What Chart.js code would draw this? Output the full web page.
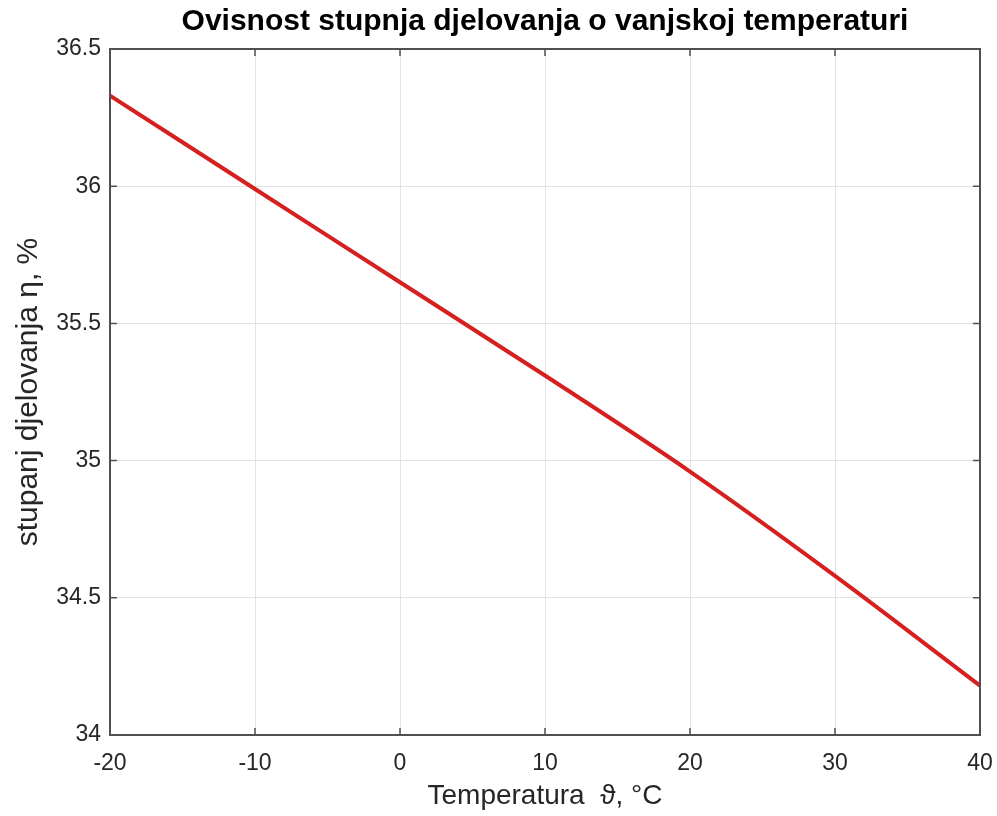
<!DOCTYPE html>
<html lang="hr">
<head>
  <meta charset="UTF-8">
  <title>Ovisnost stupnja djelovanja o vanjskoj temperaturi</title>
  <style>
    html,body{margin:0;padding:0;background:#fff;}
    #wrap{width:997px;height:816px;}
  </style>
  <script src="https://cdn.jsdelivr.net/npm/chart.js"></script>
</head>
<body>
  <div id="wrap"><canvas id="c" width="997" height="816"></canvas></div>
  <script>
    // podaci očitani sa slike
    const temps = [-20, -10, 0, 10, 20, 30, 40];
    const eta   = [36.33, 35.99, 35.65, 35.31, 34.96, 34.58, 34.18];
    const xTicks = [-20, -10, 0, 10, 20, 30, 40];
    const yTicks = [34, 34.5, 35, 35.5, 36, 36.5];

    const ink = '#262626';
    const FONT = "'Liberation Sans', Arial, sans-serif";

    // okvir osi + unutarnje crtice (MATLAB stil)
    const boxPlugin = {
      id: 'box',
      afterDraw(chart) {
        const {ctx, chartArea: a, scales: {x, y}} = chart;
        ctx.save();
        ctx.strokeStyle = '#505050';
        ctx.lineWidth = 1.5;
        ctx.beginPath();
        xTicks.forEach(v => {
          const px = x.getPixelForValue(v);
          ctx.moveTo(px, a.bottom); ctx.lineTo(px, a.bottom - 7);
          ctx.moveTo(px, a.top); ctx.lineTo(px, a.top + 7);
        });
        yTicks.forEach(v => {
          const py = y.getPixelForValue(v);
          ctx.moveTo(a.left, py); ctx.lineTo(a.left + 7, py);
          ctx.moveTo(a.right, py); ctx.lineTo(a.right - 7, py);
        });
        ctx.stroke();
        ctx.lineWidth = 2;
        ctx.strokeRect(a.left, a.top, a.right - a.left, a.bottom - a.top);
        ctx.restore();
      }
    };

    new Chart(document.getElementById('c'), {
      type: 'line',
      data: {
        datasets: [{
          data: temps.map((t, i) => ({x: t, y: eta[i]})),
          borderColor: '#d61f1f',
          borderWidth: 4,
          pointRadius: 0,
          cubicInterpolationMode: 'monotone',
          fill: false
        }]
      },
      options: {
        responsive: false,
        animation: false,
        layout: {padding: 0},
        plugins: {
          legend: {display: false},
          tooltip: {enabled: false},
          title: {
            display: true,
            fullSize: false,
            text: 'Ovisnost stupnja djelovanja o vanjskoj temperaturi',
            color: '#000',
            font: {family: FONT, size: 30, weight: 'bold', lineHeight: 1.2},
            padding: {top: 4, bottom: 9}
          }
        },
        scales: {
          x: {
            type: 'linear',
            min: -20, max: 40,
            afterBuildTicks: s => { s.ticks = xTicks.map(v => ({value: v})); },
            afterFit: s => { s.height = 81; s.paddingRight = 17; s.paddingLeft = 0; },
            grid: {color: '#e3e3e3', lineWidth: 1, drawTicks: false},
            border: {display: false},
            ticks: {color: ink, font: {family: FONT, size: 23}, padding: 15, maxRotation: 0,
                    callback: v => String(v)},
            title: {
              display: true,
              text: 'Temperatura  ϑ, °C',
              color: ink,
              font: {family: FONT, size: 28},
              padding: {top: 0, bottom: 3}
            }
          },
          y: {
            min: 34, max: 36.5,
            afterBuildTicks: s => { s.ticks = yTicks.map(v => ({value: v})); },
            afterFit: s => { s.width = 110; },
            grid: {color: '#e3e3e3', lineWidth: 1, drawTicks: false},
            border: {display: false},
            ticks: {color: ink, font: {family: FONT, size: 23}, padding: 9,
                    callback: v => String(v)},
            title: {
              display: true,
              text: 'stupanj djelovanja η, %',
              color: ink,
              font: {family: FONT, size: 30},
              padding: {top: 11, bottom: 0}
            }
          }
        }
      },
      plugins: [boxPlugin]
    });
  </script>
</body>
</html>
